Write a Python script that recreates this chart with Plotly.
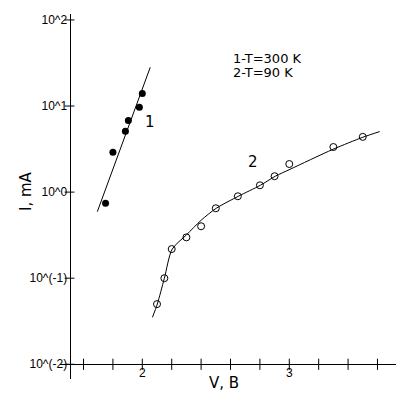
import plotly.graph_objects as go
import math

# ---- data ----
v_300K = [1.75, 1.80, 1.885, 1.905, 1.98, 2.00]
i_300K = [0.74, 2.9, 5.1, 6.8, 9.7, 14.0]

fit_v_300K = [1.694, 2.054]
fit_i_300K = [0.593, 28.2]

v_90K = [2.10, 2.15, 2.20, 2.30, 2.40, 2.50, 2.65, 2.80, 2.90, 3.00, 3.30, 3.50]
i_90K = [0.050, 0.100, 0.218, 0.298, 0.401, 0.649, 0.895, 1.20, 1.53, 2.12, 3.34, 4.38]

fit_v_90K = [2.069, 2.102, 2.150, 2.204, 2.300, 2.402, 2.503, 2.653, 2.803, 2.905, 3.005, 3.297, 3.501, 3.615]
fit_i_90K = [0.0351, 0.0501, 0.0998, 0.218, 0.318, 0.474, 0.649, 0.894, 1.20, 1.53, 1.84, 3.14, 4.34, 5.05]

x_tick_vals = [1.6, 1.8, 2.0, 2.2, 2.4, 2.6, 2.8, 3.0, 3.2, 3.4, 3.6]
x_tick_text = ["", "", "2", "", "", "", "", "3", "", "", ""]
y_tick_vals = [0.01, 0.1, 1, 10, 100]
y_tick_text = ["10^(-2)", "10^(-1)", "10^0", "10^1", "10^2"]

X_RANGE = [1.44, 3.726]
Y_RANGE = [-2.171, 2.069]
X_AXIS_AT_I = 0.01
Y_AXIS_AT_V = 1.505

x_pos = (math.log10(X_AXIS_AT_I) - Y_RANGE[0]) / (Y_RANGE[1] - Y_RANGE[0])
y_pos = (Y_AXIS_AT_V - X_RANGE[0]) / (X_RANGE[1] - X_RANGE[0])

tick_font = dict(family="Liberation Sans, Arial, sans-serif", size=12, color="black")

fig = go.Figure()
fig.add_trace(go.Scatter(x=fit_v_300K, y=fit_i_300K, mode="lines",
                         line=dict(color="black", width=1), hoverinfo="skip"))
fig.add_trace(go.Scatter(x=v_300K, y=i_300K, mode="markers",
                         marker=dict(symbol="circle", size=7, color="black")))
fig.add_trace(go.Scatter(x=fit_v_90K, y=fit_i_90K, mode="lines",
                         line=dict(color="black", width=1, shape="spline", smoothing=0.8), hoverinfo="skip"))
fig.add_trace(go.Scatter(x=v_90K, y=i_90K, mode="markers",
                         marker=dict(symbol="circle-open", size=7, color="black",
                                     line=dict(color="black", width=1))))

# crossing tick marks on both axes
fig.add_trace(go.Scatter(x=x_tick_vals, y=[X_AXIS_AT_I] * len(x_tick_vals), mode="markers",
                         marker=dict(symbol="line-ns-open", size=8, color="black",
                                     line=dict(color="black", width=1)),
                         hoverinfo="skip", cliponaxis=False))
fig.add_trace(go.Scatter(x=[Y_AXIS_AT_V] * len(y_tick_vals), y=y_tick_vals, mode="markers",
                         marker=dict(symbol="line-ew-open", size=7, color="black",
                                     line=dict(color="black", width=1)),
                         hoverinfo="skip", cliponaxis=False))

fig.update_layout(
    width=412, height=412, autosize=False,
    margin=dict(l=52, r=24, t=6, b=41),
    paper_bgcolor="white", plot_bgcolor="white",
    showlegend=False,
    xaxis=dict(range=X_RANGE, showgrid=False, zeroline=False, showline=True, automargin=False,
               linecolor="black", linewidth=1, tickmode="array", tickvals=x_tick_vals,
               ticktext=x_tick_text, ticks="", tickfont=tick_font, ticklabelstandoff=-3,
               anchor="free", position=x_pos),
    yaxis=dict(type="log", range=Y_RANGE, showgrid=False, zeroline=False, showline=True,
               automargin=False, linecolor="black", linewidth=1, tickmode="array",
               tickvals=y_tick_vals, ticktext=y_tick_text, ticks="", tickfont=tick_font,
               anchor="free", position=y_pos),
)

lab_font = dict(family="DejaVu Sans, sans-serif", size=15, color="black")
ann_font = dict(family="DejaVu Sans, sans-serif", size=13, color="black")

fig.add_annotation(x=2.053, y=math.log10(6.58), text="1", showarrow=False, font=lab_font)
fig.add_annotation(x=2.755, y=math.log10(2.26), text="2", showarrow=False, font=lab_font)
fig.add_annotation(x=2.603, y=1.558, text="1-T=300 K", showarrow=False, xanchor="left",
                   font=ann_font, height=12)
fig.add_annotation(x=2.603, y=1.397, text="2-T=90 K", showarrow=False, xanchor="left",
                   font=ann_font, height=12)

fig.add_annotation(xref="paper", yref="paper", x=(15.5 - 60) / 336, y=1 - (191.5 - 14) / 365,
                   text="I, mA", textangle=-90, showarrow=False, font=lab_font)
fig.add_annotation(xref="paper", yref="paper", x=(223.5 - 60) / 336, y=1 - (394.3 - 14) / 365,
                   text="V, B", showarrow=False, font=lab_font)

fig.write_html("out.html")
